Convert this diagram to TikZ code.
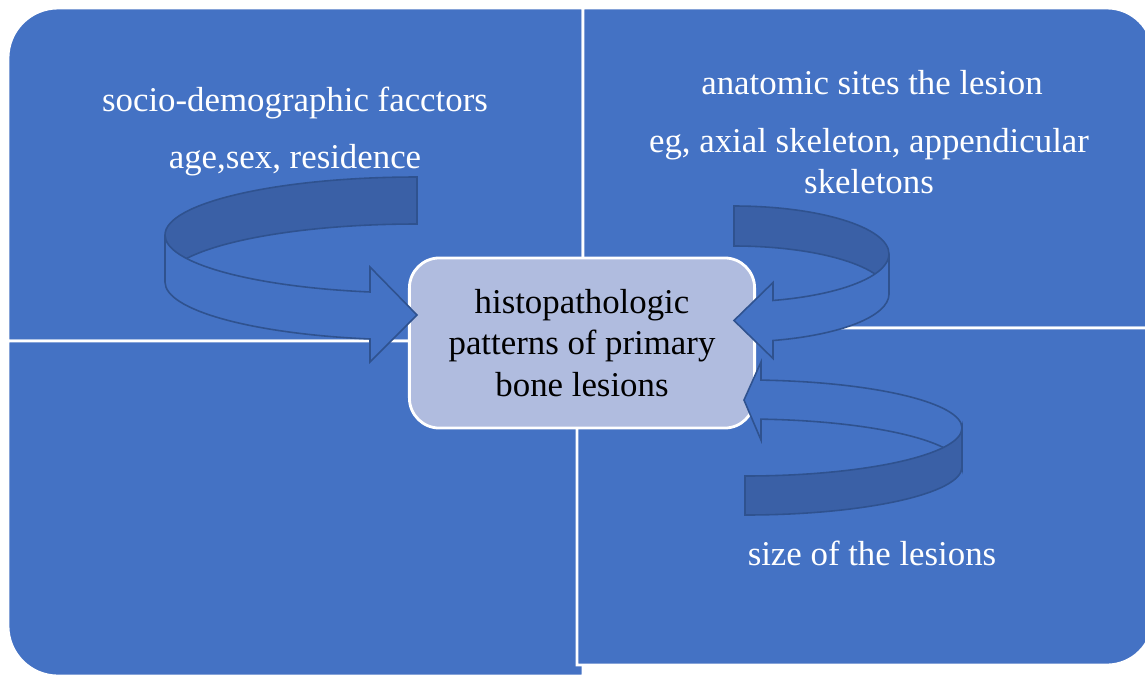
\documentclass[tikz,border=0pt]{standalone}
\usepackage{fontspec}
\setmainfont{Liberation Serif}

\definecolor{quadblue}{HTML}{4472C4}
\definecolor{ribbonedge}{HTML}{2F528F}
\definecolor{ribbondark}{HTML}{3A60A6}
\definecolor{corefill}{HTML}{B0BCDF}

\begin{document}
\begin{tikzpicture}[x=0.01cm, y=-0.01cm,
  quad/.style={fill=quadblue, draw=white, line width=0.8pt},
  quad text/.style={text=white, align=center, font=\fontsize{9.9}{11.8}\selectfont},
  core node/.style={fill=corefill, draw=white, line width=0.8pt, rounded corners=0.3cm, minimum width=3.45cm, minimum height=1.70cm, inner sep=0pt, align=center, font=\fontsize{9.9}{11.8}\selectfont},
  ribbon front/.style={fill=quadblue, draw=ribbonedge, line width=0.45pt},
  ribbon back/.style={fill=ribbondark, draw=ribbonedge, line width=0.45pt}]
  \useasboundingbox (0,0) rectangle (1145,675);

  % four quadrants
  \draw[quad] (8,341) -- (8,58) arc[start angle=180, end angle=270, radius=50] -- (583,8) -- (583,341) -- cycle;
  \draw[quad] (583,328) -- (583,8) -- (1107,8) arc[start angle=270, end angle=360, radius=46] -- (1153,328) -- cycle;
  \draw[quad] (8,341) -- (583,341) -- (583,676) -- (58,676) arc[start angle=90, end angle=180, radius=50] -- cycle;
  \draw[quad] (577,328) -- (1153,328) -- (1153,619) arc[start angle=0, end angle=90, radius=46] -- (577,665) -- cycle;

  % centre box
  \node[core node] (core) at (582,343) {histopathologic\\patterns of primary\\bone lesions};

  % quadrant texts
  \node[quad text] (socio) at (295,103) {socio-demographic facctors};
  \node[quad text] (age) at (295,160) {age,sex, residence};
  \node[quad text] (site) at (872,83) {anatomic sites the lesion};
  \node[quad text] (axial) at (869,161) {eg, axial skeleton, appendicular\\skeletons};
  \node[quad text] (size) at (872,553) {size of the lesions};

  % arrow tips
  \coordinate (socio tip) at (417,315);
  \coordinate (site tip) at (734,320.5);
  \coordinate (size tip) at (744,400);

  % left ribbon
  \draw[ribbon back] (417,177) arc[start angle=270, end angle=180, x radius=252, y radius=58] -- (165,282) arc[start angle=180, end angle=270, x radius=252, y radius=58] -- cycle;
  \draw[ribbon front] (165,235) arc[start angle=180, end angle=100.75, x radius=252, y radius=58] -- (370,267) -- (socio tip) -- (370,362) -- (370,339) arc[start angle=100.75, end angle=180, x radius=252, y radius=58] -- cycle;

  % upper right ribbon
  \draw[ribbon back] (734,206) arc[start angle=270, end angle=360, x radius=155, y radius=48] -- (889,294) arc[start angle=360, end angle=270, x radius=155, y radius=48] -- cycle;
  \draw[ribbon front] (889,254) arc[start angle=0, end angle=75.43, x radius=155, y radius=48] -- (773,282.5) -- (site tip) -- (773,358.5) -- (773,340.5) arc[start angle=75.43, end angle=0, x radius=155, y radius=48] -- cycle;

  % lower right ribbon
  \draw[ribbon front] (761,380.1) arc[start angle=274.23, end angle=360, x radius=217, y radius=48] -- (962,467) arc[start angle=360, end angle=274.23, x radius=217, y radius=48] -- (761,440) -- (size tip) -- (761,362) -- cycle;
  \draw[ribbon back] (745,476) arc[start angle=90, end angle=0, x radius=217, y radius=48] -- (962,467) arc[start angle=0, end angle=90, x radius=217, y radius=48] -- cycle;
\end{tikzpicture}
\end{document}
